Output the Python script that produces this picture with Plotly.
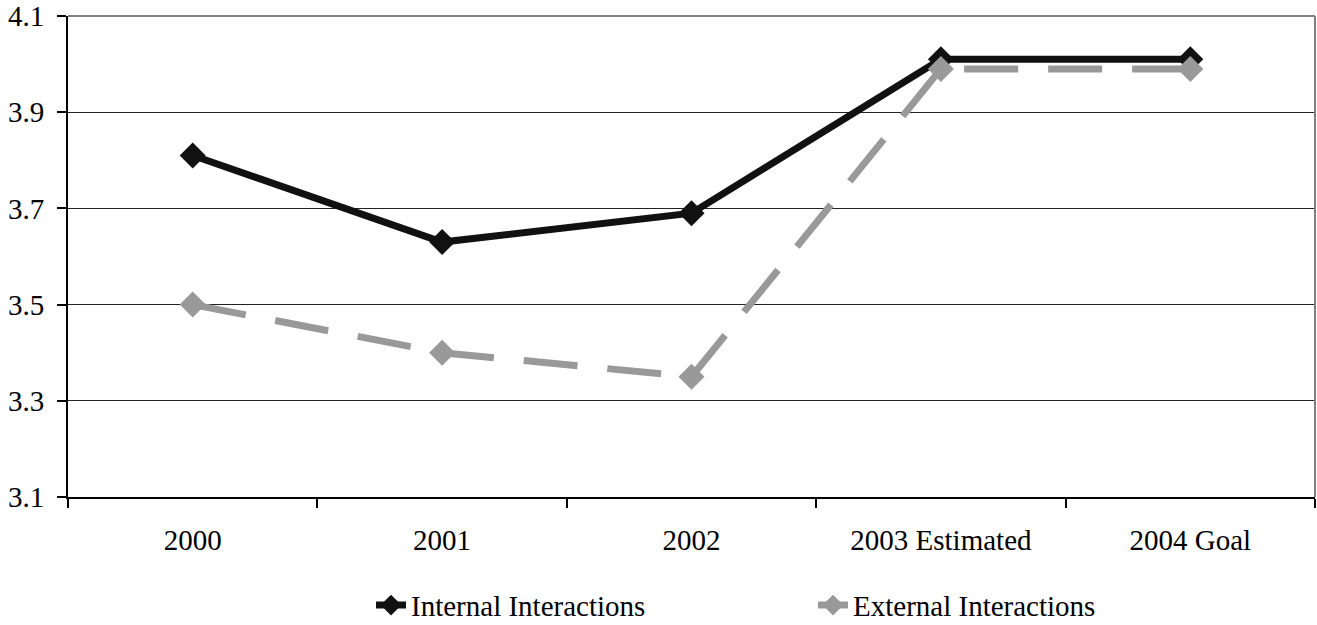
import plotly.graph_objects as go

# Interaction ratings by year
years = ["2000", "2001", "2002", "2003 Estimated", "2004 Goal"]
internal = [3.81, 3.63, 3.69, 4.01, 4.01]
external = [3.50, 3.40, 3.35, 3.99, 3.99]
y_ticks = [3.1, 3.3, 3.5, 3.7, 3.9, 4.1]

FONT = "Liberation Serif, Times New Roman, serif"
FS = 29

fig = go.Figure()

fig.add_trace(go.Scatter(
    x=years, y=internal, name="Internal Interactions",
    mode="lines+markers",
    line=dict(color="#111111", width=7),
    marker=dict(symbol="diamond", size=20, color="#111111"),
))
fig.add_trace(go.Scatter(
    x=years, y=external, name="External Interactions",
    mode="lines+markers",
    line=dict(color="#999999", width=7, dash="54px,30px"),
    marker=dict(symbol="diamond", size=20, color="#999999"),
))

fig.update_layout(
    width=1317, height=625,
    margin=dict(l=68, r=2, t=16, b=128, autoexpand=False),
    paper_bgcolor="white", plot_bgcolor="white",
    font=dict(family=FONT, size=FS, color="black"),
    showlegend=True,
    legend=dict(
        orientation="h", x=0.243, xanchor="left", y=-0.172, yanchor="top",
        font=dict(family=FONT, size=FS, color="black"),
        entrywidth=397, entrywidthmode="pixels",
        bgcolor="rgba(0,0,0,0)",
    ),
)

fig.update_xaxes(
    type="category", range=[-0.5, 4.5],
    showline=True, linecolor="black", linewidth=2,
    ticks="outside", tickson="boundaries", ticklen=9,
    tickcolor="black", tickwidth=1.5,
    showgrid=False, ticklabelstandoff=16,
    tickfont=dict(family=FONT, size=FS, color="black"),
)
fig.update_yaxes(
    range=[3.1, 4.1], tickvals=y_ticks,
    ticktext=[f"{v:.1f}" for v in y_ticks],
    showline=True, linecolor="black", linewidth=2,
    ticks="outside", ticklen=9, tickcolor="black", tickwidth=1.5,
    showgrid=True, gridcolor="#222222", gridwidth=1.2,
    zeroline=False, ticklabelstandoff=7,
    tickfont=dict(family=FONT, size=FS, color="black"),
)

# Grey frame along the top and right of the plotting area
fig.add_shape(type="line", xref="paper", yref="paper", x0=0, x1=1, y0=1, y1=1,
              line=dict(color="#808080", width=2), layer="above")
fig.add_shape(type="line", xref="paper", yref="paper", x0=1, x1=1, y0=0, y1=1,
              line=dict(color="#808080", width=2), layer="above")

fig.write_html("out.html")
